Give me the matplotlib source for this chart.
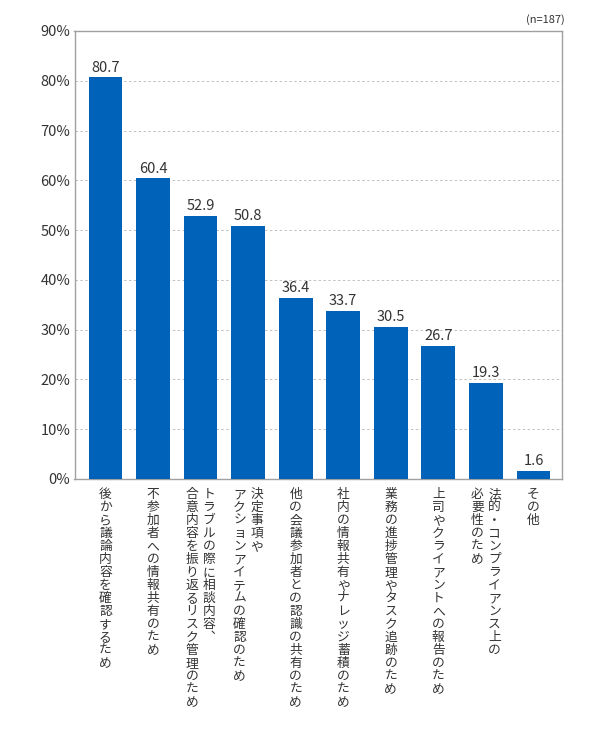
import matplotlib.pyplot as plt
from matplotlib.transforms import blended_transform_factory, offset_copy

plt.rcParams['font.family'] = ['Noto Sans CJK JP', 'DejaVu Sans']

# each label is a list of columns, right column first (vertical writing)
labels = [
    ["後から議論内容を確認するため"],
    ["不参加者への情報共有のため"],
    ["トラブルの際に相談内容︑", "合意内容を振り返るリスク管理のため"],
    ["決定事項や", "アクションアイテムの確認のため"],
    ["他の会議参加者との認識の共有のため"],
    ["社内の情報共有やナレッジ蓄積のため"],
    ["業務の進捗管理やタスク追跡のため"],
    ["上司やクライアントへの報告のため"],
    ["法的・コンプライアンス上の", "必要性のため"],
    ["その他"],
]
values = [80.7, 60.4, 52.9, 50.8, 36.4, 33.7, 30.5, 26.7, 19.3, 1.6]
yticks = [0, 10, 20, 30, 40, 50, 60, 70, 80, 90]

W, H = 590, 731
fig = plt.figure(figsize=(W / 100, H / 100), dpi=100)
ax = fig.add_axes([74.5 / W, 1 - 479 / H, (562 - 74.5) / W, (479 - 31) / H])

blue = '#0062b8'
text_col = '#333333'
x = range(len(values))
ax.bar(x, values, width=0.71, color=blue, zorder=3)

for i, v in enumerate(values):
    ax.annotate(f"{v:.1f}", (i, v), xytext=(0, 2), textcoords='offset points',
                ha='center', va='bottom', fontsize=10.5, color=text_col)

ax.set_xlim(-0.65, 9.6)
ax.set_ylim(0, 90)
ax.set_yticks(yticks)
ax.set_yticklabels([f"{t}%" for t in yticks], fontsize=10.5, color=text_col)
ax.set_xticks([])
ax.tick_params(axis='y', length=0, pad=3)
for t in yticks[1:-1]:
    ax.axhline(t, color='#c0c0c0', lw=0.7, ls=(0, (2.5, 2.5)), zorder=1)
for s in ax.spines.values():
    s.set_color('#a0a0a0')
    s.set_linewidth(1.0)

# vertical labels, one character at a time
base = blended_transform_factory(ax.transData, fig.transFigure)
col_gap = 17
pitch = 13
top_px = 488
for i, cols in enumerate(labels):
    n = len(cols)
    for c, col in enumerate(cols):
        dx = (n - 1) / 2 * col_gap - c * col_gap
        tr = offset_copy(base, fig=fig, x=dx, y=0, units='dots')
        for k, ch in enumerate(col):
            yc = 1 - (top_px + pitch * k + pitch / 2) / H
            ax.text(i, yc, ch, transform=tr, ha='center', va='center',
                    fontsize=9.2, color=text_col)

fig.text(565 / W, 1 - 20 / H, "(n=187)", ha='right', va='center',
         fontsize=8, color=text_col)

fig.savefig('out.png', dpi=100)
